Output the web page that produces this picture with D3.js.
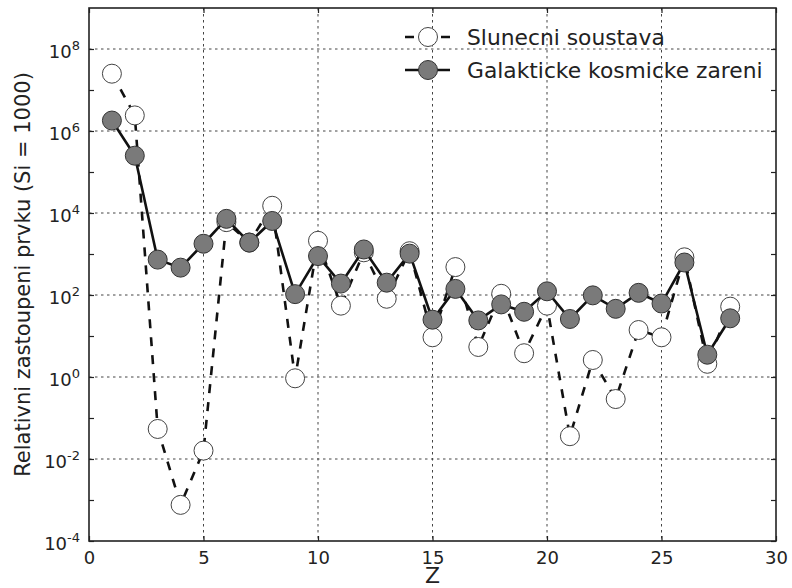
<!DOCTYPE html>
<html>
<head>
<meta charset="utf-8">
<script src="https://cdn.jsdelivr.net/npm/d3@7"></script>
<style>
  body { margin: 0; background: #fff; }
  svg { display: block; font-family: "DejaVu Sans", sans-serif; }
</style>
</head>
<body>
<svg id="chart" width="792" height="588"></svg>
<script>
// atomic number Z
var zValues = d3.range(1, 29);

// solar system abundances (Si = 1000)
var solarValues = [2.5e7, 2.4e6, 0.054, 7.6e-4, 0.016, 6000, 1900, 1.5e4, 0.93, 2100,
    55, 1100, 81, 1170, 9.3, 480, 5.4, 107, 3.8, 55,
    0.036, 2.6, 0.29, 14, 9.3, 830, 2.1, 52];

// galactic cosmic rays (Si = 1000)
var cosmicValues = [1.8e6, 2.5e5, 730, 465, 1780, 7200, 1900, 6400, 105, 890,
    190, 1290, 200, 1020, 25, 141, 24, 59, 39, 123,
    26, 98, 46, 113, 62, 620, 3.5, 27];

var seriesNames = ["Slunecni soustava", "Galakticke kosmicke zareni"];
var xTickValues = [0, 5, 10, 15, 20, 25, 30];
var yMajorExp = [-4, -2, 0, 2, 4, 6, 8];
var yMinorExp = [-3, -1, 1, 3, 5, 7];

var margin = {top: 8, right: 16, bottom: 47, left: 89};
var width = 792 - margin.left - margin.right;
var height = 588 - margin.top - margin.bottom;
var ink = "#222";

var svg = d3.select("#chart");
var g = svg.append("g").attr("transform", `translate(${margin.left},${margin.top})`);

var x = d3.scaleLinear().domain([0, 30]).range([0, width]);
var y = d3.scaleLog().domain([1e-4, 1e9]).range([height, 0]);

/**
 * grid
 */
g.append("g").selectAll("line")
    .data(xTickValues.slice(1, -1))
    .join("line")
    .attr("x1", d => x(d)).attr("x2", d => x(d))
    .attr("y1", 0).attr("y2", height)
    .attr("stroke", "#444").attr("stroke-width", 1)
    .attr("stroke-dasharray", "2.5,3.5");

g.append("g").selectAll("line")
    .data(yMajorExp.slice(1))
    .join("line")
    .attr("x1", 0).attr("x2", width)
    .attr("y1", d => y(Math.pow(10, d))).attr("y2", d => y(Math.pow(10, d)))
    .attr("stroke", "#444").attr("stroke-width", 1)
    .attr("stroke-dasharray", "2.5,3.5");

/**
 * axes (ticks inward, all four sides)
 */
var yTicksAll = yMajorExp.concat(yMinorExp).map(e => Math.pow(10, e));

var xBottom = g.append("g").attr("transform", `translate(0,${height})`)
    .call(d3.axisBottom(x).tickValues(xTickValues).tickSize(-5).tickPadding(10));
var xTop = g.append("g")
    .call(d3.axisTop(x).tickValues(xTickValues).tickSize(-5).tickFormat(""));
var yLeft = g.append("g")
    .call(d3.axisLeft(y).tickValues(yTicksAll).tickSize(-5).tickFormat(""));
var yRight = g.append("g").attr("transform", `translate(${width},0)`)
    .call(d3.axisRight(y).tickValues(yTicksAll).tickSize(-5).tickFormat(""));

[xBottom, xTop, yLeft, yRight].forEach(a => {
    a.select(".domain").remove();
    a.selectAll(".tick line").attr("stroke", ink).attr("stroke-width", 1.2);
});
xBottom.selectAll(".tick text")
    .attr("fill", ink)
    .style("font-size", "18px")
    .style("font-family", "DejaVu Sans");

// y tick labels as 10^n
var yLabels = g.append("g").selectAll("text")
    .data(yMajorExp)
    .join("text")
    .attr("x", -9)
    .attr("y", d => y(Math.pow(10, d)) + 9)
    .attr("text-anchor", "end")
    .attr("fill", ink)
    .style("font-size", "18px");
yLabels.append("tspan").text("10");
yLabels.append("tspan")
    .attr("dy", -8)
    .style("font-size", "13px")
    .text(d => String(d));

// frame
g.append("rect")
    .attr("width", width).attr("height", height)
    .attr("fill", "none").attr("stroke", ink).attr("stroke-width", 1.6);

/**
 * series
 */
var solar = zValues.map((z, i) => ({z: z, v: solarValues[i]}));
var cosmic = zValues.map((z, i) => ({z: z, v: cosmicValues[i]}));

var line = d3.line().x(d => x(d.z)).y(d => y(d.v));
var r = 9.5;

g.append("path").datum(solar)
    .attr("d", line)
    .attr("fill", "none").attr("stroke", "#111").attr("stroke-width", 2.6)
    .attr("stroke-dasharray", "9,9");
g.append("g").selectAll("circle")
    .data(solar)
    .join("circle")
    .attr("cx", d => x(d.z)).attr("cy", d => y(d.v)).attr("r", r)
    .attr("fill", "#fff").attr("stroke", "#444").attr("stroke-width", 1);

g.append("path").datum(cosmic)
    .attr("d", line)
    .attr("fill", "none").attr("stroke", "#111").attr("stroke-width", 2.6);
g.append("g").selectAll("circle")
    .data(cosmic)
    .join("circle")
    .attr("cx", d => x(d.z)).attr("cy", d => y(d.v)).attr("r", r)
    .attr("fill", "#7a7a7a").attr("stroke", "#333").attr("stroke-width", 1);

/**
 * legend
 */
var legend = g.append("g").attr("transform", "translate(316,29)");
seriesNames.forEach((name, i) => {
    var row = legend.append("g").attr("transform", `translate(0,${i * 33})`);
    row.append("line")
        .attr("x1", 0).attr("x2", 45)
        .attr("stroke", "#111").attr("stroke-width", 2.6)
        .attr("stroke-dasharray", i === 0 ? "9,9" : null);
    row.append("circle")
        .attr("cx", 23).attr("cy", 0).attr("r", r)
        .attr("fill", i === 0 ? "#fff" : "#7a7a7a")
        .attr("stroke", i === 0 ? "#444" : "#333").attr("stroke-width", 1);
    row.append("text")
        .attr("x", 62).attr("y", 8)
        .attr("fill", ink)
        .style("font-size", "21.8px")
        .text(name);
});

/**
 * axis labels
 */
svg.append("text")
    .attr("transform", `translate(30,${margin.top + height / 2}) rotate(-90)`)
    .attr("text-anchor", "middle")
    .attr("fill", ink)
    .style("font-size", "21px")
    .text("Relativni zastoupeni prvku (Si = 1000)");

svg.append("text")
    .attr("x", margin.left + width / 2)
    .attr("y", 583)
    .attr("text-anchor", "middle")
    .attr("fill", ink)
    .style("font-size", "22px")
    .text("Z");
</script>
</body>
</html>
